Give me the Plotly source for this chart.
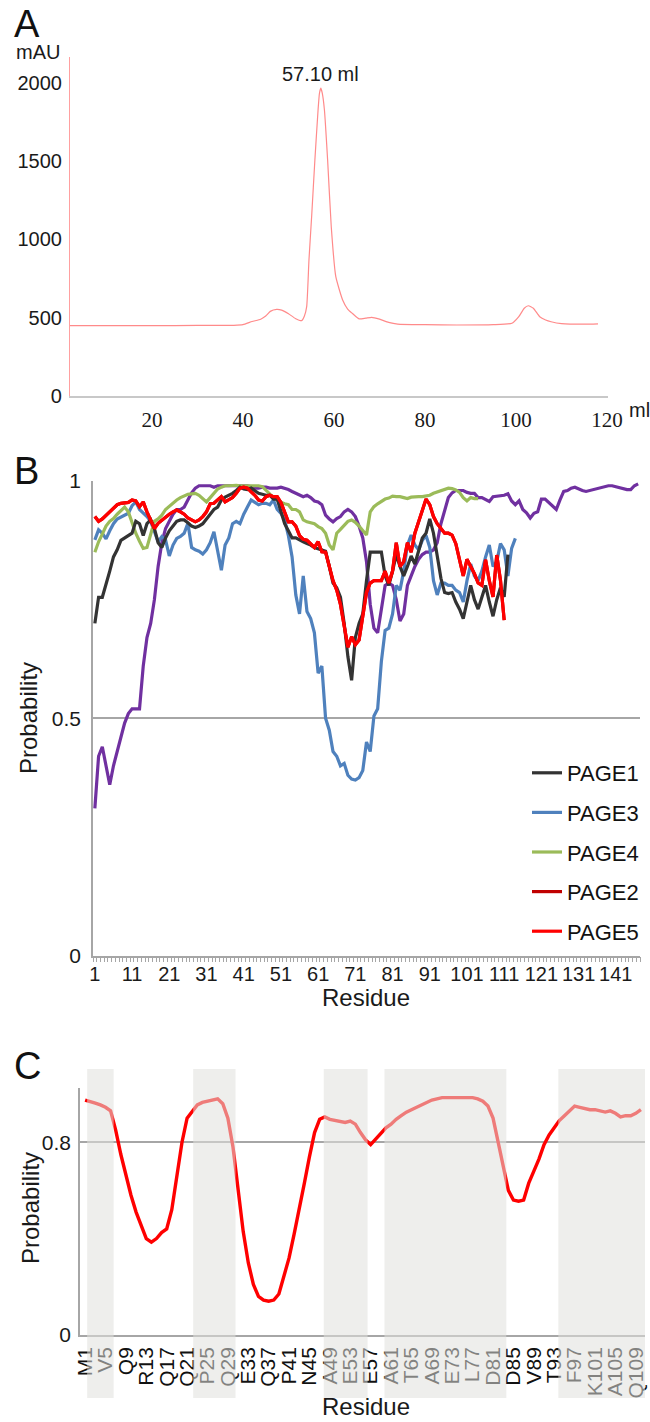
import plotly.graph_objects as go

W, H = 650, 1422
def px(xp): return xp / W
def py(yp): return 1 - yp / H

# ---------------- Panel A: chromatogram ----------------
a_ml = [2, 10, 20, 30, 38, 40, 42, 43.9, 45, 46, 47.4, 48.5, 50, 51.5, 52.9, 53.5, 54.0, 54.5,
        55.1, 55.8, 56.5, 56.8, 57.1, 57.4, 57.9, 58.6, 59.4, 60.4, 61.9, 63, 64.0, 65.5, 67, 68.3, 70, 72,
        74, 80, 87, 95, 99.1, 100.6, 101.8, 102.7, 103.8, 105.2, 106.5, 107.7, 110, 115, 118]
a_mau = [449, 449, 449, 450, 451, 455, 475, 490, 510, 540, 553, 548, 525, 495, 481, 510, 570, 868,
         1150, 1506, 1825, 1930, 1964, 1935, 1825, 1506, 1080, 761, 613, 555, 528, 492, 497, 502, 490, 470,
         459, 455, 453, 455, 464, 506, 560, 576, 560, 506, 485, 474, 462, 458, 460]
a_yticks = [0, 500, 1000, 1500, 2000]
a_xticks = [20, 40, 60, 80, 100, 120]
peak_ml = 57.10

# ---------------- Panel B: probability per residue ----------------
purple = [0.31, 0.42, 0.44, 0.40, 0.36, 0.40, 0.43, 0.46, 0.49, 0.51,
          0.52, 0.52, 0.52, 0.61, 0.67, 0.70, 0.75, 0.82, 0.87, 0.90,
          0.915, 0.93, 0.94, 0.94, 0.945, 0.96, 0.975, 0.985, 0.99, 0.99,
          0.99, 0.99, 0.987, 0.99, 0.99, 0.99, 0.99, 0.99, 0.99, 0.99,
          0.99, 0.99, 0.988, 0.985, 0.985, 0.987, 0.987, 0.985, 0.985, 0.985,
          0.987, 0.985, 0.982, 0.978, 0.974, 0.97, 0.967, 0.97, 0.965, 0.958,
          0.956, 0.95, 0.928, 0.92, 0.914, 0.921, 0.925, 0.935, 0.94, 0.935,
          0.925, 0.905, 0.88, 0.83, 0.74, 0.69, 0.68, 0.73, 0.78, 0.785,
          0.78, 0.75, 0.705, 0.72, 0.78, 0.80, 0.82, 0.835, 0.845, 0.85,
          0.85, 0.855, 0.87, 0.91, 0.94, 0.965, 0.975, 0.98, 0.98, 0.98,
          0.976, 0.974, 0.974, 0.965, 0.965, 0.96, 0.957, 0.967, 0.968, 0.97,
          0.97, 0.973, 0.958, 0.95, 0.958, 0.94, 0.933, 0.922, 0.932, 0.935,
          0.962, 0.962, 0.955, 0.947, 0.94, 0.96, 0.978, 0.98, 0.985, 0.987,
          0.983, 0.98, 0.978, 0.98, 0.983, 0.985, 0.987, 0.988, 0.99, 0.99,
          0.988, 0.986, 0.985, 0.982, 0.982, 0.99, 0.994]
page1 = [0.70, 0.755, 0.755, 0.78, 0.81, 0.84, 0.855, 0.875, 0.88, 0.885,
         0.89, 0.915, 0.91, 0.885, 0.91, 0.918, 0.90, 0.87, 0.86, 0.88,
         0.895, 0.905, 0.915, 0.918, 0.918, 0.912, 0.905, 0.902, 0.905, 0.91,
         0.92, 0.932, 0.94, 0.945, 0.96, 0.966, 0.97, 0.974, 0.98, 0.987,
         0.983, 0.982, 0.985, 0.98, 0.974, 0.972, 0.97, 0.97, 0.962, 0.962,
         0.935, 0.91, 0.895, 0.88, 0.88, 0.875, 0.872, 0.868, 0.865, 0.86,
         0.857, 0.855, 0.852, 0.82, 0.785, 0.775, 0.755, 0.70, 0.63, 0.58,
         0.67, 0.70, 0.72, 0.79, 0.85, 0.85, 0.85, 0.85, 0.80, 0.78,
         0.81, 0.845, 0.82, 0.80, 0.82, 0.842, 0.825, 0.85, 0.88, 0.89,
         0.92, 0.89, 0.84, 0.795, 0.765, 0.763, 0.765, 0.745, 0.73, 0.71,
         0.745, 0.78, 0.75, 0.73, 0.755, 0.78, 0.745, 0.715, 0.75, 0.775,
         0.756, 0.845]
page3 = [0.876, 0.897, 0.89, 0.878, 0.895, 0.91, 0.92, 0.924, 0.928, 0.932,
         0.948, 0.956, 0.94, 0.933, 0.925, 0.915, 0.895, 0.872, 0.883, 0.876,
         0.842, 0.865, 0.879, 0.883, 0.89, 0.911, 0.86, 0.855, 0.852, 0.846,
         0.855, 0.87, 0.893, 0.85, 0.812, 0.865, 0.88, 0.91, 0.915, 0.91,
         0.93, 0.945, 0.96, 0.955, 0.95, 0.953, 0.953, 0.95, 0.96, 0.94,
         0.932, 0.918, 0.885, 0.84, 0.76, 0.72, 0.80, 0.725, 0.71, 0.68,
         0.595, 0.61, 0.50, 0.475, 0.43, 0.42, 0.40, 0.405, 0.38, 0.372,
         0.37, 0.375, 0.39, 0.45, 0.43, 0.505, 0.52, 0.62, 0.685, 0.69,
         0.72, 0.78, 0.77, 0.81, 0.865, 0.886, 0.865, 0.855, 0.875, 0.885,
         0.86, 0.79, 0.76, 0.785, 0.785, 0.78, 0.78, 0.77, 0.765, 0.745,
         0.79, 0.825, 0.80, 0.79, 0.81, 0.84, 0.865, 0.82, 0.83, 0.868,
         0.855, 0.80, 0.858, 0.879]
page4 = [0.85, 0.872, 0.888, 0.905, 0.915, 0.921, 0.93, 0.938, 0.945, 0.935,
         0.91, 0.89, 0.873, 0.858, 0.86, 0.89, 0.915, 0.92, 0.928, 0.94,
         0.947, 0.955, 0.96, 0.965, 0.968, 0.972, 0.973, 0.974, 0.97, 0.962,
         0.956, 0.965, 0.975, 0.983, 0.987, 0.99, 0.99, 0.991, 0.991, 0.99,
         0.99, 0.991, 0.991, 0.99, 0.99, 0.988, 0.98, 0.972, 0.965, 0.96,
         0.955, 0.952, 0.95, 0.94, 0.94, 0.935, 0.918, 0.914, 0.912, 0.91,
         0.904, 0.90, 0.89, 0.865, 0.855, 0.89, 0.898, 0.906, 0.915, 0.918,
         0.913, 0.905, 0.895, 0.886, 0.935, 0.946, 0.952, 0.958, 0.962, 0.964,
         0.968, 0.967, 0.967, 0.965, 0.963, 0.966, 0.967, 0.967, 0.967, 0.968,
         0.97, 0.974, 0.977, 0.98, 0.982, 0.985, 0.984, 0.981, 0.976, 0.965,
         0.958, 0.965, 0.963, 0.963]
page5 = [0.925, 0.915, 0.92, 0.928, 0.935, 0.944, 0.95, 0.953, 0.954, 0.955,
         0.96, 0.958, 0.946, 0.956, 0.935, 0.918, 0.90, 0.911, 0.918, 0.925,
         0.93, 0.935, 0.939, 0.935, 0.93, 0.922, 0.918, 0.914, 0.918, 0.925,
         0.935, 0.952, 0.953, 0.96, 0.967, 0.956, 0.96, 0.965, 0.974, 0.985,
         0.987, 0.985, 0.977, 0.97, 0.96, 0.958, 0.967, 0.97, 0.967, 0.967,
         0.955, 0.935, 0.914, 0.914, 0.905, 0.885, 0.877, 0.875, 0.868, 0.86,
         0.872, 0.851, 0.85, 0.823, 0.79, 0.77, 0.74, 0.695, 0.65, 0.672,
         0.655, 0.665, 0.72, 0.765, 0.785, 0.79, 0.79, 0.79, 0.81, 0.785,
         0.81, 0.87, 0.82, 0.83, 0.87, 0.85, 0.89, 0.915, 0.94, 0.962,
         0.95, 0.925, 0.91, 0.90, 0.89, 0.89, 0.886, 0.868, 0.835, 0.80,
         0.835, 0.82, 0.805, 0.785, 0.78, 0.834, 0.79, 0.756, 0.844, 0.791,
         0.707]
page2 = list(page5)  # drawn beneath PAGE5, which covers it
b_xticks = list(range(1, 142, 10))
b_yticks = [0, 0.5, 1]

# ---------------- Panel C ----------------
c_prob = [0.975, 0.97, 0.962, 0.955, 0.945, 0.93, 0.85, 0.75, 0.66, 0.58,
          0.51, 0.45, 0.40, 0.385, 0.40, 0.425, 0.44, 0.52, 0.66, 0.80,
          0.90, 0.93, 0.955, 0.965, 0.97, 0.975, 0.98, 0.96, 0.90, 0.78,
          0.60, 0.43, 0.30, 0.21, 0.16, 0.145, 0.14, 0.145, 0.17, 0.24,
          0.32, 0.42, 0.52, 0.63, 0.74, 0.84, 0.895, 0.905, 0.895, 0.89,
          0.885, 0.882, 0.888, 0.875, 0.84, 0.81, 0.79, 0.815, 0.84, 0.86,
          0.875, 0.895, 0.91, 0.925, 0.935, 0.945, 0.955, 0.965, 0.975, 0.98,
          0.985, 0.985, 0.985, 0.985, 0.985, 0.985, 0.985, 0.98, 0.97, 0.95,
          0.90, 0.80, 0.70, 0.60, 0.56, 0.555, 0.56, 0.63, 0.68, 0.73,
          0.79, 0.83, 0.86, 0.89, 0.91, 0.93, 0.95, 0.945, 0.94, 0.935,
          0.935, 0.93, 0.925, 0.93, 0.92, 0.905, 0.91, 0.91, 0.92, 0.935]
c_labels = ["M1", "V5", "Q9", "R13", "Q17", "Q21", "P25", "Q29", "E33", "Q37", "P41", "N45",
            "A49", "E53", "E57", "A61", "T65", "A69", "E73", "L77", "D81", "D85", "V89", "T93",
            "F97", "K101", "A105", "Q109"]
c_label_pos = list(range(1, 110, 4))
band_start = [1.4, 22.2, 47.8, 59.7, 93.8]
band_end = [6.6, 30.5, 56.4, 83.6, 110.8]
c_yticks = [0, 0.8]

FONT = "Liberation Sans, Arial, sans-serif"
TXT = "#1a1a1a"
fig = go.Figure()

# Panel A trace
fig.add_trace(go.Scatter(x=a_ml, y=a_mau, mode="lines",
                         line=dict(color="#ff8a8a", width=1.2, shape="spline", smoothing=0.5),
                         showlegend=False, xaxis="x", yaxis="y", hoverinfo="skip"))

# Panel B traces
fig.add_trace(go.Scatter(x=list(range(1, len(purple) + 1)), y=purple, mode="lines",
                         line=dict(color="#7030a0", width=3.2), showlegend=False, xaxis="x2", yaxis="y2"))
series = [("PAGE3", page3, "#4f81bd", 2), ("PAGE4", page4, "#9bbb59", 3), ("PAGE1", page1, "#333333", 1),
          ("PAGE2", page2, "#c00000", 4), ("PAGE5", page5, "#ff0000", 5)]
for name, vals, col, rank in series:
    fig.add_trace(go.Scatter(x=list(range(1, len(vals) + 1)), y=vals, mode="lines", name=name,
                             line=dict(color=col, width=3.2), legendrank=rank, legendgroup=name,
                             xaxis="x2", yaxis="y2"))

# Panel C trace
fig.add_trace(go.Scatter(x=list(range(1, len(c_prob) + 1)), y=c_prob, mode="lines",
                         line=dict(color="#ff0000", width=3.4), showlegend=False, xaxis="x3", yaxis="y3"))

# band shapes (above traces and labels, semi-transparent)
for s, e in zip(band_start, band_end):
    fig.add_shape(type="rect", xref="x3", yref="paper", x0=s, x1=e, y0=py(1398), y1=py(1069),
                  fillcolor="#e0e0dc", opacity=0.55, line=dict(width=0), layer="above")

fig.update_layout(
    width=W, height=H, margin=dict(l=0, r=0, t=0, b=0), paper_bgcolor="white", plot_bgcolor="white",
    font=dict(family=FONT, size=18, color=TXT),
    xaxis=dict(domain=[px(70), px(608)], range=[2, 120.2], tickvals=a_xticks, showgrid=False, zeroline=False,
               showline=True, linecolor="#c8c8c8", linewidth=1.5, ticks="", ticklabelstandoff=4,
               tickfont=dict(family="Liberation Serif, Times New Roman, serif", size=21, color=TXT),
               anchor="y", automargin=False, tickangle=0),
    yaxis=dict(domain=[py(396), py(57)], range=[0, 2163], tickvals=a_yticks, showgrid=False, zeroline=False,
               showline=True, linecolor="#ffa0a0", linewidth=1.2, ticks="", ticklabelstandoff=3,
               tickfont=dict(family=FONT, size=20, color=TXT), anchor="x", automargin=False),
    xaxis2=dict(domain=[px(93), px(640)], range=[0.5, 147.5], tickvals=b_xticks, showgrid=False, zeroline=False,
                showline=True, linecolor="#a6a6a6", linewidth=1.5, ticks="", tickangle=0,
                minor=dict(ticks="outside", dtick=1, tick0=0.5, ticklen=5, tickcolor="#a6a6a6", showgrid=False),
                tickfont=dict(family=FONT, size=20, color=TXT), anchor="y2", automargin=False),
    yaxis2=dict(domain=[py(955.6), py(481)], range=[0, 1], tickvals=b_yticks, ticktext=["0", "0.5", "1"],
                showgrid=True, gridcolor="#a6a6a6", gridwidth=1.5, zeroline=False, ticklabelstandoff=6,
                showline=True, linecolor="#a6a6a6", linewidth=1.5, ticks="", tickfont=dict(family=FONT, size=21, color=TXT),
                anchor="x2", automargin=False),
    xaxis3=dict(domain=[px(80), px(645)], range=[0, 110.8], tickvals=c_label_pos, ticktext=c_labels,
                tickangle=-90, showgrid=False, zeroline=False, showline=True, linecolor="#a6a6a6", linewidth=1.5,
                ticks="", ticklabelstandoff=2, tickfont=dict(family=FONT, size=21, color="#111"), anchor="y3",
                automargin=False),
    yaxis3=dict(domain=[py(1335), py(1088)], range=[0, 1.025], tickvals=c_yticks, ticktext=["0", "0.8"],
                showgrid=True, gridcolor="#a6a6a6", gridwidth=1.5, zeroline=False, ticklabelstandoff=3,
                showline=True, linecolor="#a6a6a6", linewidth=1.5, ticks="", tickfont=dict(family=FONT, size=21, color=TXT),
                anchor="x3", automargin=False),
    legend=dict(x=px(527), y=py(752), xanchor="left", yanchor="top", bgcolor="rgba(0,0,0,0)",
                font=dict(family=FONT, size=22, color="#111"), tracegroupgap=8, itemwidth=30),
)

# axis titles
title_font = dict(family=FONT, size=24, color=TXT)
for txt, xp, yp, ang in [("Probability", 28, 718, -90), ("Probability", 30, 1208, -90),
                         ("Residue", 366, 997, 0), ("Residue", 366, 1406, 0)]:
    fig.add_annotation(x=px(xp), y=py(yp), xref="paper", yref="paper", text=txt, showarrow=False,
                       textangle=ang, xanchor="center", yanchor="middle", font=title_font)

# annotations
fig.add_annotation(x=peak_ml, y=2055, xref="x", yref="y", text="57.10 ml", showarrow=False,
                   font=dict(family=FONT, size=20, color=TXT))
fig.add_annotation(x=px(14), y=py(52), xref="paper", yref="paper", text="mAU", showarrow=False,
                   xanchor="left", yanchor="middle", font=dict(family=FONT, size=20, color=TXT))
fig.add_annotation(x=px(627), y=py(410), xref="paper", yref="paper", text="ml", showarrow=False,
                   xanchor="left", yanchor="middle", font=dict(family=FONT, size=20, color=TXT))
for letter, ypix in [("A", 24), ("B", 471), ("C", 1066)]:
    fig.add_annotation(x=px(12), y=py(ypix), xref="paper", yref="paper", text=letter, showarrow=False,
                       xanchor="left", yanchor="middle", font=dict(family=FONT, size=38, color="#111"))

fig.write_html("out.html")
